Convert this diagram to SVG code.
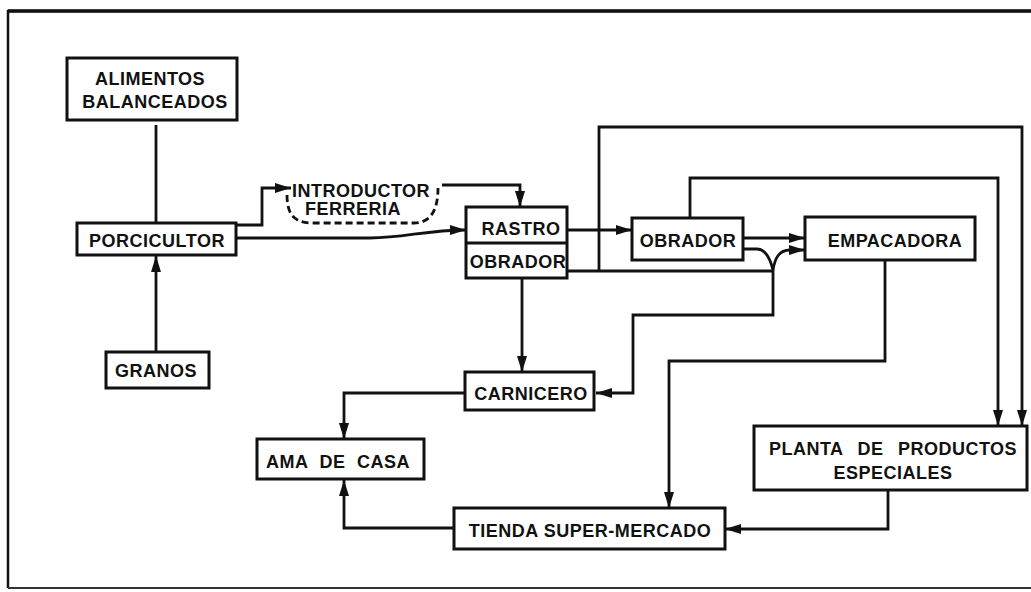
<svg xmlns="http://www.w3.org/2000/svg" width="1031" height="592" viewBox="0 0 1031 592">
<defs>
<marker id="ah" markerUnits="userSpaceOnUse" markerWidth="17" markerHeight="11" refX="16" refY="5.5" orient="auto">
<path d="M0,0.5 L16,5.5 L0,10.5 z" fill="#111"/>
</marker>
<style>
.box{fill:#fff;stroke:#111;stroke-width:3}
.ln{fill:none;stroke:#111;stroke-width:2.8;stroke-linejoin:miter}
.ar{marker-end:url(#ah)}
.dash{fill:none;stroke:#111;stroke-width:2.8;stroke-dasharray:7 4}
text{font-family:"Liberation Sans",Arial,sans-serif;font-weight:bold;font-size:18px;letter-spacing:0.5px;fill:#111;text-anchor:middle}
</style>
</defs>
<rect x="0" y="0" width="1031" height="592" fill="#fff"/>
<path d="M8,588 L8,11 L1031,11" fill="none" stroke="#111" stroke-width="2.5"/>
<line x1="8" y1="11" x2="1031" y2="11" stroke="#111" stroke-width="3.5"/>
<line x1="8" y1="588" x2="1031" y2="588" stroke="#333" stroke-width="2"/>

<g id="connectors">
<path class="ln" d="M156,125 L156,223"/>
<path class="ln ar" d="M156,352 L156,256"/>
<path class="ln ar" d="M236,225 L262,225 L262,188 L291,188"/>
<path class="ln ar" d="M236,238 L370,238 C405,238 425,230 466,230"/>
<path class="dash" d="M287,195 C287,214 294,223 312,223 L414,223 C432,223 438,208 438,188"/>
<path class="ln ar" d="M442,185 L520,185 L520,207"/>
<path class="ln ar" d="M567,230 L632,230"/>
<path class="ln" d="M567,271 L773,271"/>
<path class="ln ar" d="M599,271 L599,127 L1022,127 L1022,426"/>
<path class="ln ar" d="M690,218 L690,178 L998,178 L998,426"/>
<path class="ln ar" d="M743,238 L805,238"/>
<path class="ln ar" d="M743,249 L757,249 C767,249 771,262 773,270 L773,315 L633,315 L633,393 L596,393"/>
<path class="ln ar" d="M773,270 C775,258 779,250 790,250 L805,250"/>
<path class="ln ar" d="M522,278 L522,372"/>
<path class="ln ar" d="M885,260 L885,361 L669,361 L669,508"/>
<path class="ln ar" d="M888,490 L888,529 L725,529"/>
<path class="ln ar" d="M465,393 L344,393 L344,439"/>
<path class="ln ar" d="M454,528 L344,528 L344,480"/>
</g>

<g id="alimentos">
<rect class="box" x="67" y="58" width="170" height="62"/>
<text x="150" y="85">ALIMENTOS</text>
<text x="155" y="108">BALANCEADOS</text>
</g>
<g id="porcicultor">
<rect class="box" x="77" y="223" width="159" height="32"/>
<text x="157" y="247">PORCICULTOR</text>
</g>
<g id="granos">
<rect class="box" x="106" y="352" width="103" height="36"/>
<text x="156" y="377">GRANOS</text>
</g>
<g id="introductor">
<text x="361" y="197">INTRODUCTOR</text>
<text x="353" y="215">FERRERIA</text>
</g>
<g id="rastro">
<rect class="box" x="466" y="207" width="101" height="71"/>
<line x1="466" y1="243" x2="567" y2="243" stroke="#111" stroke-width="3"/>
<text x="521" y="235">RASTRO</text>
<text x="518" y="268">OBRADOR</text>
</g>
<g id="obrador">
<rect class="box" x="632" y="218" width="111" height="42"/>
<text x="688" y="247">OBRADOR</text>
</g>
<g id="empacadora">
<rect class="box" x="805" y="217" width="170" height="43"/>
<text x="895" y="247">EMPACADORA</text>
</g>
<g id="carnicero">
<rect class="box" x="465" y="372" width="129" height="38"/>
<text x="531" y="400">CARNICERO</text>
</g>
<g id="ama">
<rect class="box" x="257" y="439" width="167" height="40"/>
<text x="338" y="468" word-spacing="6">AMA DE CASA</text>
</g>
<g id="tienda">
<rect class="box" x="454" y="508" width="271" height="41"/>
<text x="590" y="537">TIENDA SUPER-MERCADO</text>
</g>
<g id="planta">
<rect class="box" x="754" y="426" width="273" height="64"/>
<text x="893" y="455" word-spacing="9">PLANTA DE PRODUCTOS</text>
<text x="893" y="479">ESPECIALES</text>
</g>
</svg>
